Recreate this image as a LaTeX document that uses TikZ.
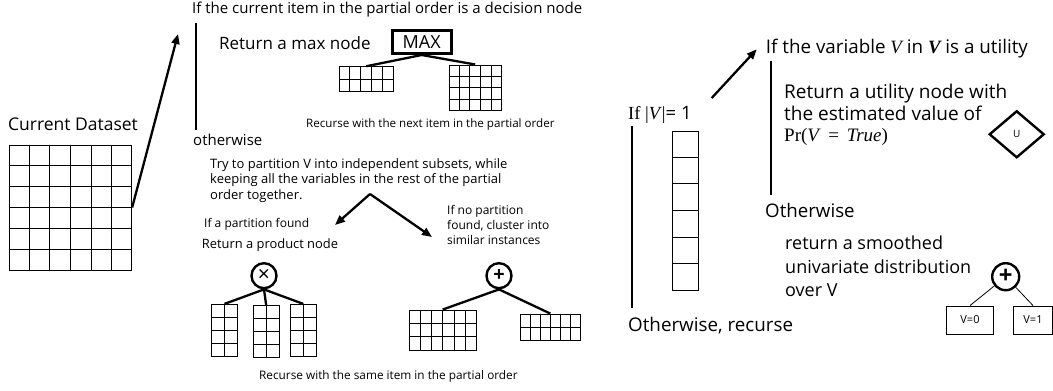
\documentclass[tikz,border=0pt]{standalone}
\usepackage{amsmath}
\usepackage[no-math]{fontspec}
\setmainfont{Open Sans}
\newfontfamily\mserif{Liberation Serif}
\usetikzlibrary{arrows.meta,shapes.geometric,calc}

\newcommand\cellgrid[3]{%
  \foreach \ci in {1,...,#2}{\ifnum\ci<#2\relax
    \draw[gridline] ($(#1.north west)!\ci/#2!(#1.north east)$) -- ($(#1.south west)!\ci/#2!(#1.south east)$);\fi}
  \foreach \ri in {1,...,#3}{\ifnum\ri<#3\relax
    \draw[gridline] ($(#1.north west)!\ri/#3!(#1.south west)$) -- ($(#1.north east)!\ri/#3!(#1.south east)$);\fi}
}
\newcommand\fs[1]{\fontsize{#1}{#1}\selectfont}
\newcommand\mvar[1]{{\mserif\itshape #1}}

\begin{document}
\begin{tikzpicture}[x=1pt,y=-1pt,
  gridline/.style={line width=0.9pt},
  gridbox/.style={draw, line width=0.9pt, inner sep=0, rectangle},
  txt/.style={inner sep=0, anchor=west, align=left},
  conn/.style={line width=2.3pt},
  thinconn/.style={line width=0.8pt},
  vbar/.style={line width=2.3pt},
  bigarrow/.style={line width=2.3pt, -{Triangle[length=10pt,width=8pt]}},
  opnode/.style={circle, draw, line width=2.4pt, inner sep=0},
]
\useasboundingbox (0,0) rectangle (1053,391);

% ---------- left: dataset ----------
\node[txt] (tds) at (8,124) {\fs{17.5}Current Dataset};
\node[gridbox, minimum width=122.4pt, minimum height=125pt] (ds) at (70.5,207.5) {};
\cellgrid{ds}{6}{6}
\coordinate (a1tip) at (178,34);
\draw[bigarrow] (ds.east) -- (a1tip);

% ---------- decision branch ----------
\node[txt] (tdec) at (192,10) {\fs{15}If the current item in the partial order is a decision node};
\coordinate (v1a) at (196,23);
\coordinate (v1b) at (196,130);
\draw[vbar] (v1a) -- (v1b);
\node[txt] (tmaxr) at (219,43) {\fs{17}Return a max node};
\node[draw, line width=3pt, minimum width=59pt, minimum height=23pt, inner sep=0] (maxn) at (421.7,42) {\fs{18}MAX};
\node[gridbox, minimum width=54pt, minimum height=25pt] (gL) at (366.3,79.2) {};
\cellgrid{gL}{5}{2}
\node[gridbox, minimum width=51.7pt, minimum height=45.7pt] (gR) at (475.2,87.8) {};
\cellgrid{gR}{5}{4}
\draw[conn] (maxn.south) -- (gL.north);
\draw[conn] (maxn.south) -- (gR.north);
\node[txt] (trec1) at (306,124) {\fs{11.6}Recurse with the next item in the partial order};

% ---------- otherwise branch ----------
\node[txt] (toth) at (193,140) {\fs{15}otherwise};
\node[txt, font={\fontsize{13}{15.5}\selectfont}] (ttry) at (210,180.5) {Try to partition V into independent subsets, while\\keeping all the variables in the rest of the partial\\order together.};
\coordinate (splitpt) at (370,194);
\coordinate (spL) at (335,225);
\coordinate (spR) at (432,237);
\draw[bigarrow] (splitpt) -- (spL);
\draw[bigarrow] (splitpt) -- (spR);
\node[txt] (tpf) at (204,224) {\fs{12}If a partition found};
\node[txt] (tprod) at (201.7,245) {\fs{12.9}Return a product node};
\node[txt, font={\fontsize{12}{15}\selectfont}] (tnp) at (447,225) {If no partition\\found, cluster into\\similar instances};

% product node
\node[opnode, minimum size=25pt] (prod) at (264,275.7) {\fs{21}×};
\node[gridbox, minimum width=25.6pt, minimum height=51.7pt] (pg1) at (224.5,330.2) {};
\cellgrid{pg1}{2}{4}
\node[gridbox, minimum width=25.7pt, minimum height=52pt] (pg2) at (266.2,331.7) {};
\cellgrid{pg2}{2}{4}
\node[gridbox, minimum width=25.3pt, minimum height=51.7pt] (pg3) at (303.3,330.2) {};
\cellgrid{pg3}{2}{4}
\draw[conn] (prod.south) -- (pg1.north);
\draw[conn] (prod.south) -- (pg2.north);
\draw[conn] (prod.south) -- (pg3.north);

% sum node
\node[opnode, minimum size=25pt] (sum1) at (499,275.7) {\fs{20}\textbf{+}};
\node[gridbox, minimum width=66.7pt, minimum height=40pt] (sg1) at (442.7,330) {};
\cellgrid{sg1}{6}{3}
\node[gridbox, minimum width=59.3pt, minimum height=26pt] (sg2) at (550.3,327) {};
\cellgrid{sg2}{6}{2}
\draw[conn] (sum1.south) -- (sg1.north);
\draw[conn] (sum1.south) -- (sg2.north);
\node[txt] (trec2) at (259,376) {\fs{11.8}Recurse with the same item in the partial order};

% ---------- right part ----------
\node[txt] (tif1) at (628,115) {\fs{18.5}{\mserif If |\textit{V}|}= 1};
\coordinate (a2s) at (711.7,98);
\coordinate (a2t) at (756.7,49.3);
\draw[bigarrow] (a2s) -- (a2t);
\node[txt] (tutil) at (765.7,48.3) {\fs{18.8}If the variable \mvar{V} in {\mserif\bfseries\itshape V} is a utility};
\coordinate (v2a) at (770.7,60.7);
\coordinate (v2b) at (770.7,195);
\draw[vbar] (v2a) -- (v2b);
\node[txt, font={\fontsize{19}{21.7}\selectfont}] (tret) at (784,115) {Return a utility node with\\the estimated value of\\{\mserif Pr(\textit{V}\hspace{0.4em}=\hspace{0.4em}\textit{True})}};
\node[diamond, draw, line width=2.4pt, minimum width=55pt, minimum height=47pt, inner sep=0] (util) at (1016.7,134.3) {\fs{10}U};
\node[txt] (toth2) at (765,210) {\fs{18.7}Otherwise};

\coordinate (v3a) at (632.3,126);
\coordinate (v3b) at (632.3,308.3);
\draw[vbar] (v3a) -- (v3b);
\node[gridbox, minimum width=25.6pt, minimum height=159pt] (colg) at (685.5,210.5) {};
\cellgrid{colg}{1}{6}
\node[txt] (toth3) at (628,326) {\fs{18.8}Otherwise, recurse};
\node[txt, font={\fontsize{18}{23.7}\selectfont}] (tsm) at (785,266.5) {return a smoothed\\univariate distribution\\over V};

\node[opnode, minimum size=27pt] (sum2) at (1005.7,276.7) {\fs{24}\textbf{+}};
\node[draw, line width=0.9pt, minimum width=46.6pt, minimum height=28pt, inner sep=0] (v0) at (970,320) {\fs{11}V=0};
\node[draw, line width=0.9pt, minimum width=39pt, minimum height=28pt, inner sep=0] (v1) at (1033,320) {\fs{11}V=1};
\draw[thinconn] (sum2) -- (v0.north);
\draw[thinconn] (sum2) -- (v1.north);
\end{tikzpicture}
\end{document}
